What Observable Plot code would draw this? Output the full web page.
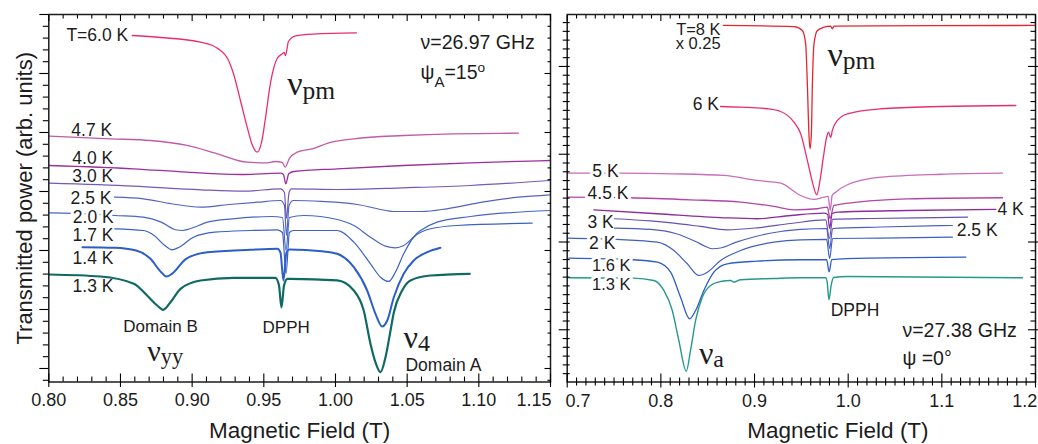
<!DOCTYPE html>
<html><head><meta charset="utf-8">
<script src="https://cdn.jsdelivr.net/npm/d3@7"></script>
<script src="https://cdn.jsdelivr.net/npm/@observablehq/plot@0.6"></script>
<style>
body{margin:0;background:#fff;}
#wrap{position:relative;width:1038px;height:444px;background:#fff;overflow:hidden;}
#left{position:absolute;left:0;top:0;}
#right{position:absolute;left:556px;top:0;}
</style></head><body>
<div id="wrap"><div id="left"></div><div id="right"></div></div>
<script>
// ================= LEFT PANEL (ν = 26.97 GHz, ψA = 15°) =================
const leftXMajor = [0.80, 0.85, 0.90, 0.95, 1.00, 1.05, 1.10, 1.15];
const leftXTickLabels = ["0.80", "0.85", "0.90", "0.95", "1.00", "1.05", "1.10", "1.15"];
const leftYMajor = [0, 10, 20, 30, 40, 50, 60];
const leftNames = ["T=6.0 K", "4.7 K", "4.0 K", "3.0 K", "2.5 K", "2.0 K", "1.7 K", "1.4 K", "1.3 K"];
const leftColors = ["#ea2d72", "#c25aa6", "#9b2f9d", "#7658b7", "#5463bf", "#4467c7", "#3a61c4", "#2c5ec9", "#0f6a64"];

// [field (T), transmitted power (arb. units)]
const L_6_0 = [[0.8582,56.44],[0.8779,56.10],[0.9058,55.31],[0.9142,54.75],[0.9198,53.90],[0.9247,52.54],[0.9288,50.00],[0.9337,45.42],[0.9384,40.90],[0.9421,37.80],[0.9454,36.66],[0.9484,38.31],[0.9512,42.54],[0.9546,48.31],[0.9593,52.54],[0.9627,53.31],[0.9641,53.56],[0.9651,53.05],[0.9672,55.42],[0.9721,56.36],[0.9846,56.69],[1.0146,56.90]];
const L_4_7 = [[0.8005,39.37],[0.8430,38.93],[0.8709,38.64],[0.8965,37.80],[0.9175,36.39],[0.9384,34.97],[0.9523,34.86],[0.9581,35.08],[0.9628,34.92],[0.9649,34.12],[0.9677,35.54],[0.9733,36.66],[0.9839,37.24],[0.9965,38.31],[1.0128,38.93],[1.0474,39.49],[1.0823,39.78],[1.1276,39.88]];
const L_4_0 = [[0.8005,34.41],[0.8591,33.85],[0.8965,33.27],[0.9337,32.88],[0.9616,33.10],[0.9637,32.88],[0.9653,31.31],[0.9674,33.00],[0.9709,33.39],[1.0012,33.85],[1.0474,34.41],[1.0942,34.86],[1.1495,35.25]];
const L_3_0 = [[0.8005,31.41],[0.8591,30.90],[0.9058,30.29],[0.9360,30.05],[0.9616,30.46],[0.9644,29.83],[0.9658,25.42],[0.9676,29.83],[0.9693,30.46],[1.0012,30.34],[1.0474,30.63],[1.0942,31.02],[1.1495,31.86]];
const L_2_5 = [[0.8458,29.03],[0.8660,28.76],[0.8856,27.92],[0.9058,27.34],[0.9258,27.80],[0.9456,28.19],[0.9616,28.47],[0.9644,27.63],[0.9658,22.54],[0.9676,27.63],[0.9706,28.47],[0.9905,28.31],[1.0153,27.80],[1.0354,26.78],[1.0404,26.61],[1.0603,26.61],[1.0777,27.07],[1.1025,28.19],[1.1276,29.03],[1.1500,29.44]];
const L_2_0 = [[0.8005,26.39],[0.8291,26.19],[0.8460,25.93],[0.8660,25.64],[0.8784,24.80],[0.8884,23.51],[0.8933,23.39],[0.8984,23.68],[0.9107,24.80],[0.9281,25.37],[0.9556,25.76],[0.9630,25.59],[0.9655,20.00],[0.9679,25.59],[0.9779,25.93],[1.0012,25.25],[1.0128,24.24],[1.0244,22.25],[1.0349,20.73],[1.0418,20.46],[1.0476,20.85],[1.0593,23.39],[1.0709,24.80],[1.0942,25.76],[1.1495,26.78]];
const L_1_7 = [[0.8460,23.68],[0.8660,23.39],[0.8735,22.54],[0.8809,20.85],[0.8859,20.12],[0.8909,20.56],[0.9009,22.25],[0.9158,23.10],[0.9407,23.39],[0.9594,23.51],[0.9630,23.05],[0.9655,16.10],[0.9679,23.05],[0.9707,23.39],[1.0012,23.39],[1.0128,21.41],[1.0244,17.75],[1.0314,15.47],[1.0372,14.75],[1.0418,16.32],[1.0476,19.44],[1.0546,22.25],[1.0663,23.68],[1.0849,24.24],[1.1372,24.63]];
const L_1_4 = [[0.8235,20.56],[0.8460,20.46],[0.8610,20.00],[0.8709,18.59],[0.8784,16.32],[0.8821,15.59],[0.8859,16.05],[0.8958,18.59],[0.9107,19.71],[0.9407,20.12],[0.9594,20.29],[0.9616,19.66],[0.9637,14.92],[0.9658,19.66],[0.9679,20.17],[0.9905,19.88],[1.0012,19.44],[1.0128,17.17],[1.0221,13.22],[1.0279,9.27],[1.0326,7.12],[1.0361,8.14],[1.0407,12.08],[1.0476,16.05],[1.0546,18.31],[1.0640,19.71],[1.0732,20.46]];
const L_1_3 = [[0.8001,15.93],[0.8361,15.59],[0.8593,14.36],[0.8686,12.37],[0.8756,10.68],[0.8798,9.95],[0.8849,11.24],[0.8919,13.51],[0.9058,14.92],[0.9290,15.37],[0.9581,15.37],[0.9606,14.07],[0.9623,10.34],[0.9641,14.07],[0.9665,15.20],[0.9686,15.20],[1.0012,14.92],[1.0128,13.22],[1.0197,9.83],[1.0244,4.19],[1.0279,1.02],[1.0314,-0.63],[1.0349,1.92],[1.0384,6.44],[1.0407,9.49],[1.0465,13.22],[1.0523,14.92],[1.0663,15.76],[1.0937,16.05]];
const leftSeries = [L_6_0, L_4_7, L_4_0, L_3_0, L_2_5, L_2_0, L_1_7, L_1_4, L_1_3];
const leftWidths = [1.3, 1.3, 1.3, 1.2, 1.2, 1.2, 1.2, 2.0, 2.2];
// label anchor points (end of label) for each curve
const leftLabelX = [0.8554, 0.8442, 0.8449, 0.8449, 0.8437, 0.8453, 0.8451, 0.8451, 0.8451];
const leftLabelY = [56.44, 40.34, 35.64, 32.59, 28.76, 25.64, 22.54, 18.59, 13.95];

// ================= RIGHT PANEL (ν = 27.38 GHz, ψ = 0°) =================
const rightXMajor = [0.7, 0.8, 0.9, 1.0, 1.1, 1.2];
const rightXTickLabels = ["0.7", "0.8", "0.9", "1.0", "1.1", "1.2"];
const rightYMajor = [0, 10, 20, 30];
const rightNames = ["T=8 K\nx 0.25", "6 K", "5 K", "4.5 K", "4 K", "3 K", "2.5 K", "2 K", "1.6 K", "1.3 K"];
const rightColors = ["#e8242e", "#ea2d6c", "#c86dbb", "#b246a6", "#8b2d9f", "#6452b2", "#4d5fbd", "#3e5fc2", "#2f5cc8", "#24998c"];

const R_8 = [[0.8667,34.67],[0.9421,34.55],[0.9511,34.10],[0.9546,32.58],[0.9564,28.03],[0.9581,22.33],[0.9592,20.62],[0.9607,22.33],[0.9618,28.03],[0.9635,32.58],[0.9671,34.10],[0.9742,34.47],[0.9813,34.59],[0.9831,34.29],[0.9848,34.59],[1.0276,34.63],[1.2000,34.67]];
const R_6 = [[0.8638,25.44],[0.8852,25.36],[0.9137,25.18],[0.9279,24.87],[0.9421,23.65],[0.9493,22.33],[0.9564,19.29],[0.9618,16.82],[0.9664,15.38],[0.9699,17.01],[0.9735,19.66],[0.9770,21.94],[0.9789,22.51],[0.9813,21.91],[0.9831,22.71],[0.9885,23.85],[0.9992,24.61],[1.0347,25.18],[1.0988,25.44],[1.1790,25.55]];
const R_5 = [[0.7003,17.84],[0.7562,17.84],[0.8139,17.77],[0.8673,17.58],[0.9030,17.01],[0.9279,16.70],[0.9493,15.30],[0.9635,14.85],[0.9742,15.11],[0.9786,15.20],[0.9808,13.59],[0.9829,15.30],[0.9867,15.68],[0.9992,16.52],[1.0347,17.39],[1.0988,17.72],[1.1648,17.84]];
const R_4_5 = [[0.7003,15.11],[0.7669,15.04],[0.8317,14.81],[0.8852,14.54],[0.9207,14.05],[0.9421,13.67],[0.9671,13.79],[0.9778,13.97],[0.9806,12.68],[0.9848,14.16],[1.0098,14.54],[1.0633,14.92],[1.1648,15.04]];
const R_4 = [[0.7284,13.67],[0.7962,13.22],[0.8673,12.76],[0.9030,12.65],[0.9386,13.02],[0.9742,13.28],[0.9781,13.14],[0.9802,11.54],[0.9829,13.25],[0.9885,13.40],[1.0633,13.59],[1.1576,13.71]];
const R_3 = [[0.7505,12.65],[0.7890,12.40],[0.8139,12.14],[0.8424,11.77],[0.8709,11.39],[0.9030,11.62],[0.9386,12.11],[0.9760,12.51],[0.9799,10.40],[0.9834,12.57],[1.0240,12.68],[1.0775,12.76],[1.1274,12.83]];
const R_2_5 = [[0.7505,11.58],[0.7890,11.43],[0.8157,10.97],[0.8371,10.06],[0.8478,9.49],[0.8552,9.23],[0.8638,9.32],[0.8798,9.95],[0.9012,10.63],[0.9279,11.20],[0.9493,11.43],[0.9770,11.54],[0.9802,9.26],[0.9834,11.54],[1.0347,11.71],[1.1113,11.88]];
const R_2 = [[0.7003,10.44],[0.7534,10.29],[0.7962,9.98],[0.8139,9.03],[0.8282,7.52],[0.8406,6.19],[0.8496,6.56],[0.8638,7.90],[0.8852,9.03],[0.9207,9.98],[0.9493,10.25],[0.9770,10.29],[0.9802,8.12],[0.9834,10.40],[1.0347,10.44],[1.1113,10.55]];
const R_1_6 = [[0.7017,8.16],[0.7705,7.98],[0.7962,7.70],[0.8104,6.56],[0.8210,3.71],[0.8307,1.25],[0.8371,2.20],[0.8459,4.48],[0.8566,6.56],[0.8709,7.52],[0.9030,7.82],[0.9493,7.98],[0.9770,7.98],[0.9797,6.60],[0.9824,8.00],[1.0240,8.16],[1.1256,8.27]];
const R_1_3 = [[0.7017,5.92],[0.7705,5.88],[0.7925,5.62],[0.8032,4.48],[0.8122,2.20],[0.8192,-1.22],[0.8271,-4.72],[0.8317,-2.36],[0.8371,1.06],[0.8442,3.71],[0.8531,5.05],[0.8638,5.50],[0.8745,5.62],[0.8780,5.42],[0.8852,5.70],[0.9207,5.84],[0.9493,5.92],[0.9760,5.92],[0.9776,5.39],[0.9795,3.42],[0.9818,5.05],[0.9845,5.95],[0.9992,6.07],[1.1861,5.92]];
const rightSeries = [R_8, R_6, R_5, R_4_5, R_4, R_3, R_2_5, R_2, R_1_6, R_1_3];
const rightWidths = [1.3, 1.3, 1.3, 1.3, 1.3, 1.2, 1.2, 1.2, 1.3, 1.4];

// ================= helpers =================
const F_SANS = "Liberation Sans, Arial, Helvetica, sans-serif";
const F_SERIF = "Liberation Serif, Times New Roman, serif";
const INK = "#1c1c1c";
const notIn = (arr) => (v) => !arr.some((m) => Math.abs(m - v) < 1e-9);
const leftXMinor = d3.range(80, 116).map((i) => i / 100).filter(notIn(leftXMajor));
const leftYMinor = d3.range(-2, 61, 2).filter(notIn(leftYMajor));
const rightXMinor = d3.range(70, 121).map((i) => i / 100).filter(notIn(rightXMajor));
const rightYMinor = d3.range(-5, 36, 1).filter(notIn(rightYMajor));

function ax(fn, ticks, anchor, inside, outside) {
  const shift = anchor === "bottom" ? {dy: -inside} : anchor === "top" ? {dy: inside}
    : anchor === "left" ? {dx: inside} : {dx: -inside};
  return fn({ticks, anchor, tickSize: inside + outside, tickFormat: () => "", label: null, strokeWidth: 1.1, ...shift});
}

function lines(series, colors, widths) {
  return series.map((s, i) => Plot.line(s, {x: (d) => d[0], y: (d) => d[1], stroke: colors[i], strokeWidth: widths[i], curve: "monotone-x", clip: true}));
}

function label(x, y, text, opts = {}) {
  return Plot.text([{x, y, text}], {x: "x", y: "y", text: "text", fill: INK, fontFamily: F_SANS, fontSize: 17.5, textAnchor: "end", ...opts});
}

function enrich(svg) {
  const NS = "http://www.w3.org/2000/svg";
  const spec = {"_": [0.77, 0.43], "~": [0.75, 0.1], "^": [0.7, -0.34]};
  svg.querySelectorAll("text").forEach((el) => {
    const t = el.textContent;
    if (!/[_^~]\{/.test(t)) return;
    const fs = parseFloat(getComputedStyle(el).fontSize) || 16;
    while (el.firstChild) el.removeChild(el.firstChild);
    const re = /([_^~])\{([^}]*)\}/g;
    let last = 0, m, off = 0;
    const add = (s, size, shift) => {
      if (!s) return;
      const ts = document.createElementNS(NS, "tspan");
      ts.textContent = s;
      if (size) ts.setAttribute("font-size", size);
      const d = shift - off;
      if (d) ts.setAttribute("dy", d);
      off = shift;
      el.appendChild(ts);
    };
    while ((m = re.exec(t))) {
      add(t.slice(last, m.index), null, 0);
      const [k, v] = spec[m[1]];
      add(m[2], fs * k, v * fs);
      last = re.lastIndex;
    }
    add(t.slice(last), null, 0);
  });
}

const tickText = {frameAnchor: "bottom", lineAnchor: "middle", fontSize: 18, fontFamily: F_SANS, fill: INK};

// ================= LEFT PLOT =================
const leftPlot = Plot.plot({
  width: 556, height: 444,
  marginLeft: 48.3, marginRight: 6, marginTop: 14, marginBottom: 62.5,
  style: {background: "white", overflow: "visible"},
  x: {domain: [0.80, 1.15]},
  y: {domain: [-2.29, 60.0]},
  marks: [
    ...lines(leftSeries, leftColors, leftWidths),
    Plot.frame({strokeWidth: 1.5, stroke: INK}),
    ax(Plot.axisX, leftXMajor, "bottom", 8, 5.5),
    ax(Plot.axisX, leftXMinor, "bottom", 5, 0),
    ax(Plot.axisX, leftXMajor, "top", 6, 0),
    ax(Plot.axisX, leftXMinor, "top", 3.5, 0),
    ax(Plot.axisY, leftYMajor, "left", 0, 9),
    ax(Plot.axisY, leftYMinor, "left", 0, 5.5),
    ax(Plot.axisY, leftYMajor, "right", 6.5, 0),
    ax(Plot.axisY, leftYMinor, "right", 3.5, 0),
    Plot.text(leftXMajor.slice(0, -1), {x: (d) => d, text: (d, i) => leftXTickLabels[i], dy: 18.5, ...tickText}),
    Plot.text([leftXMajor[7]], {x: (d) => d, text: () => leftXTickLabels[7], dy: 18.5, dx: 1, textAnchor: "end", ...tickText}),
    Plot.text(["Magnetic Field (T)"], {text: (d) => d, frameAnchor: "bottom", lineAnchor: "middle", dy: 49, fontSize: 22.5, fontFamily: F_SANS, fill: INK}),
    Plot.text(["Transmitted power (arb. units)"], {text: (d) => d, frameAnchor: "left", textAnchor: "middle", lineAnchor: "middle", rotate: -90, dx: -24, fontSize: 22, fontFamily: F_SANS, fill: INK}),
    ...leftNames.map((n, i) => label(leftLabelX[i], leftLabelY[i], n, i === 5 ? {stroke: "white", strokeWidth: 6} : {})),
    label(1.0593, 55.24, "ν=26.97 GHz", {textAnchor: "start", fontSize: 19.5}),
    label(1.0593, 50.15, "ψ_{A}=15^{o}", {textAnchor: "start", fontSize: 19.5}),
    label(0.9663, 48.12, "ν~{pm}", {textAnchor: "start", fontSize: 34, fontFamily: F_SERIF}),
    label(0.9656, 7.0, "DPPH", {textAnchor: "middle", fontSize: 17}),
    label(0.8779, 7.15, "Domain B", {textAnchor: "middle", fontSize: 17}),
    label(0.8686, 2.9, "ν~{yy}", {textAnchor: "start", fontSize: 30, fontFamily: F_SERIF}),
    label(1.0474, 5.19, "ν~{4}", {textAnchor: "start", fontSize: 32, fontFamily: F_SERIF}),
    label(1.0488, 0.51, "Domain A", {textAnchor: "start"})
  ]
});

// ================= RIGHT PLOT =================
const rightLabels = [
  {x: 0.8638, y: 33.30, a: "end", halo: false},   // T=8 K / x 0.25
  {x: 0.8620, y: 25.67, a: "end", halo: false},   // 6 K
  {x: 0.7409, y: 18.07, a: "middle", halo: true}, // 5 K
  {x: 0.7436, y: 15.56, a: "middle", halo: true}, // 4.5 K
  {x: 1.1594, y: 13.67, a: "start", halo: false}, // 4 K
  {x: 0.7356, y: 12.26, a: "middle", halo: false},// 3 K
  {x: 1.1159, y: 11.31, a: "start", halo: false}, // 2.5 K
  {x: 0.7374, y: 9.80, a: "middle", halo: true},  // 2 K
  {x: 0.7471, y: 7.35, a: "middle", halo: true},  // 1.6 K
  {x: 0.7471, y: 5.14, a: "middle", halo: true}   // 1.3 K
];
const rightPlot = Plot.plot({
  width: 482, height: 444,
  marginLeft: 10.7, marginRight: 3, marginTop: 14, marginBottom: 62.5,
  style: {background: "white", overflow: "visible"},
  x: {domain: [0.7, 1.2]},
  y: {domain: [-5.95, 35.92]},
  marks: [
    ...lines(rightSeries, rightColors, rightWidths),
    Plot.frame({strokeWidth: 1.5, stroke: INK}),
    ax(Plot.axisX, rightXMajor, "bottom", 8, 6),
    ax(Plot.axisX, rightXMinor, "bottom", 4, 4),
    ax(Plot.axisX, rightXMajor, "top", 6, 0),
    ax(Plot.axisX, rightXMinor, "top", 3.5, 0),
    ax(Plot.axisY, rightYMajor, "left", 3, 8),
    ax(Plot.axisY, rightYMinor, "left", 3, 4),
    ax(Plot.axisY, rightYMajor, "right", 8, 2),
    ax(Plot.axisY, rightYMinor, "right", 5.5, 0),
    Plot.text([rightXMajor[0]], {x: (d) => d, text: () => rightXTickLabels[0], dy: 19.3, dx: -1.7, textAnchor: "start", ...tickText}),
    Plot.text(rightXMajor.slice(1, -1), {x: (d) => d, text: (d, i) => rightXTickLabels[i + 1], dy: 19.3, ...tickText}),
    Plot.text([rightXMajor[5]], {x: (d) => d, text: () => rightXTickLabels[5], dy: 19.3, dx: 1.7, textAnchor: "end", ...tickText}),
    Plot.text(["Magnetic Field (T)"], {text: (d) => d, frameAnchor: "bottom", lineAnchor: "middle", dy: 49, dx: 36.6, fontSize: 22.5, fontFamily: F_SANS, fill: INK}),
    ...rightNames.map((n, i) => label(rightLabels[i].x, rightLabels[i].y, n, {textAnchor: rightLabels[i].a, ...(i === 0 ? {lineHeight: 0.87, fontSize: 16.5} : {}), ...(i >= 8 ? {fontSize: 16.5} : {}), ...(rightLabels[i].halo ? {stroke: "white", strokeWidth: 6} : {})})),
    label(0.9778, 31.35, "ν~{pm}", {textAnchor: "start", fontSize: 34, fontFamily: F_SERIF}),
    label(0.8406, -2.70, "ν~{a}", {textAnchor: "start", fontSize: 32, fontFamily: F_SERIF}),
    label(0.9813, 2.20, "DPPH", {textAnchor: "start", fontSize: 17.5}),
    label(1.0579, -0.14, "ν=27.38 GHz", {textAnchor: "start", fontSize: 19.5}),
    label(1.0579, -3.28, "ψ =0°", {textAnchor: "start", fontSize: 19.5})
  ]
});

document.getElementById("left").append(leftPlot);
document.getElementById("right").append(rightPlot);
enrich(leftPlot);
enrich(rightPlot);
</script></body></html>
